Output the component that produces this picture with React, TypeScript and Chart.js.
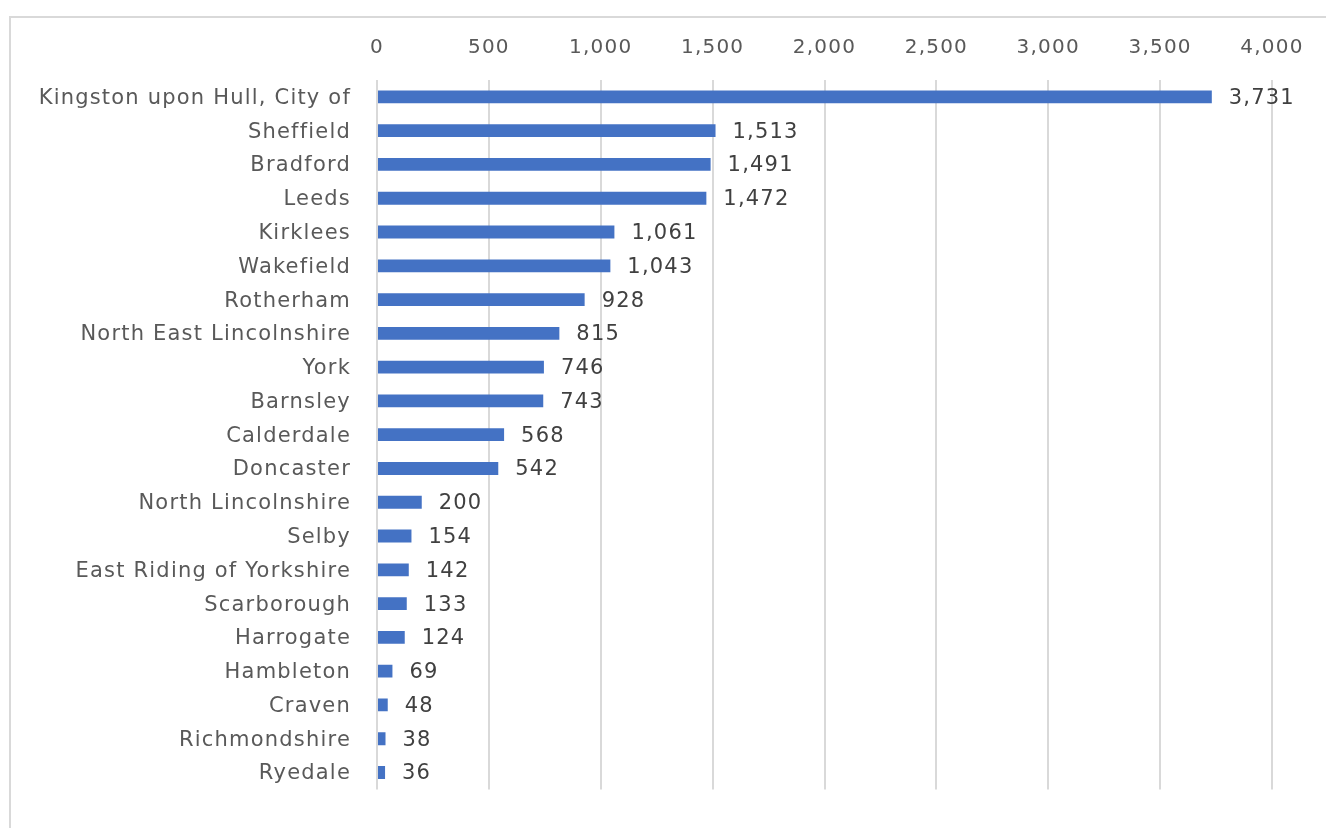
import React, { useEffect, useRef } from "react";
import { Chart, registerables } from "chart.js";

Chart.register(...registerables);

const categories: string[] = [
  "Kingston upon Hull, City of",
  "Sheffield",
  "Bradford",
  "Leeds",
  "Kirklees",
  "Wakefield",
  "Rotherham",
  "North East Lincolnshire",
  "York",
  "Barnsley",
  "Calderdale",
  "Doncaster",
  "North Lincolnshire",
  "Selby",
  "East Riding of Yorkshire",
  "Scarborough",
  "Harrogate",
  "Hambleton",
  "Craven",
  "Richmondshire",
  "Ryedale",
];

const values: number[] = [
  3731, 1513, 1491, 1472, 1061, 1043, 928, 815, 746, 743, 568, 542, 200, 154,
  142, 133, 124, 69, 48, 38, 36,
];

const axisMin = 0;
const axisMax = 4000;
const axisStep = 500;

const FONT = "'DejaVu Sans', sans-serif";
const SPACING = "1.2px";

const fmt = (v: number) => v.toLocaleString("en-US");

const spacingPlugin = {
  id: "spacing",
  beforeDraw(chart: any) {
    (chart.ctx as any).letterSpacing = SPACING;
  },
};

const dataLabelPlugin = {
  id: "dataLabels",
  afterDatasetsDraw(chart: any) {
    const ctx = chart.ctx;
    const meta = chart.getDatasetMeta(0);
    ctx.save();
    (ctx as any).letterSpacing = SPACING;
    ctx.font = `21px ${FONT}`;
    ctx.fillStyle = "#404040";
    ctx.textAlign = "left";
    ctx.textBaseline = "middle";
    meta.data.forEach((el: any, i: number) => {
      ctx.fillText(fmt(values[i]), el.x + 17, el.y + 1.5);
    });
    ctx.restore();
  },
};

export default function App() {
  const ref = useRef<HTMLCanvasElement | null>(null);

  useEffect(() => {
    if (!ref.current) return;
    const chart = new Chart(ref.current, {
      type: "bar",
      data: {
        labels: categories,
        datasets: [
          {
            data: values,
            backgroundColor: "#4472C4",
            borderWidth: 0,
            categoryPercentage: 1,
            barPercentage: 0.38,
          },
        ],
      },
      options: {
        indexAxis: "y",
        animation: false,
        responsive: false,
        layout: { padding: { left: 0, top: 0, right: 54, bottom: 22 } },
        plugins: {
          legend: { display: false },
          tooltip: { enabled: false },
        },
        scales: {
          x: {
            position: "top",
            min: axisMin,
            max: axisMax,
            border: { display: false },
            grid: {
              color: "#d9d9d9",
              lineWidth: 2,
              drawTicks: false,
            },
            ticks: {
              stepSize: axisStep,
              padding: 20,
              color: "#595959",
              font: { family: FONT, size: 20 },
              callback: (v: any) => fmt(Number(v)),
            },
            afterFit: (scale: any) => {
              scale.height = 80;
            },
          },
          y: {
            border: { display: false },
            grid: { display: false, drawTicks: false },
            ticks: {
              padding: 26,
              labelOffset: 1.5,
              color: "#595959",
              font: { family: FONT, size: 21 },
              autoSkip: false,
            },
            afterFit: (scale: any) => {
              scale.width = 377;
            },
          },
        },
      },
      plugins: [spacingPlugin, dataLabelPlugin],
    });
    return () => chart.destroy();
  }, []);

  return (
    <div
      style={{
        position: "fixed",
        left: 0,
        top: 0,
        width: 1326,
        height: 828,
        overflow: "hidden",
        background: "#fff",
      }}
    >
      <div
        style={{
          position: "absolute",
          left: 9,
          top: 16,
          width: 1400,
          height: 900,
          borderLeft: "2px solid #d9d9d9",
          borderTop: "2px solid #d9d9d9",
        }}
      />
      <canvas
        ref={ref}
        width={1326}
        height={828}
        style={{ position: "absolute", left: 0, top: 0, width: 1326, height: 828 }}
      />
    </div>
  );
}
